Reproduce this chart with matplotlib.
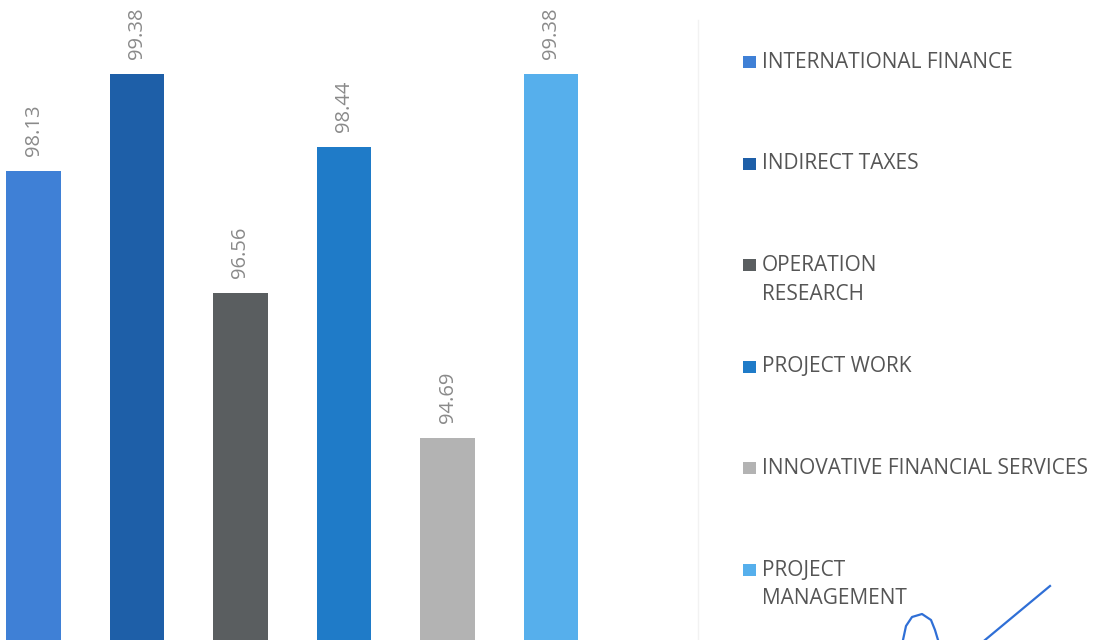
import matplotlib
matplotlib.use("Agg")
import matplotlib.pyplot as plt
from matplotlib.patches import Rectangle
from matplotlib.lines import Line2D
import numpy as np

subjects = ['INTERNATIONAL FINANCE', 'INDIRECT TAXES', 'OPERATION\nRESEARCH',
            'PROJECT WORK', 'INNOVATIVE FINANCIAL SERVICES', 'PROJECT\nMANAGEMENT']
scores = [98.13, 99.38, 96.56, 98.44, 94.69, 99.38]
bar_colors = ['#3f80d6', '#1e5fa8', '#5a5e60', '#1f7bc8', '#b3b3b3', '#56afec']

W, H = 1101, 640
fig = plt.figure(figsize=(W / 100, H / 100), dpi=100)
fig.patch.set_facecolor('white')

# axes runs off the bottom of the picture, like the cropped original
ax = fig.add_axes([0, (640 - 647.3) / H, 620 / W, (647.3 - 25.7) / H])
x = np.arange(len(scores))
ax.bar(x, scores, width=0.53, color=bar_colors)
ax.set_ylim(92, 100)
ax.set_xlim(-33.5 / 103.5, (620 - 33.5) / 103.5)
ax.axis('off')

for xi, v in zip(x, scores):
    ax.annotate(f'{v:.2f}', (xi, v), xytext=(0, 11), textcoords='offset points',
                rotation=90, ha='center', va='bottom', fontsize=14.5,
                color='#8a8a8a', family='Open Sans', annotation_clip=False)

# faint divider between plot and legend
fig.add_artist(Line2D([698 / W, 698 / W], [0, 1 - 20 / H], color='#f2f2f2', lw=1))

# legend drawn by hand to keep the even spacing of the original
for i, (name, c) in enumerate(zip(subjects, bar_colors)):
    yc = 62 + i * 101.6
    fig.add_artist(Rectangle((743 / W, 1 - (yc + 6) / H), 13 / W, 12 / H,
                             transform=fig.transFigure, color=c, lw=0))
    for k, line in enumerate(name.split('\n')):
        fig.text(762 / W, 1 - (yc + k * 29) / H, line, ha='left', va='center',
                 fontsize=15, color='#555555', family='Open Sans')

# signature scribble at the bottom right
sx = [903, 906, 912, 922, 931, 935, 938]
sy = [640, 626, 617, 614, 620, 630, 640]
fig.add_artist(Line2D([v / W for v in sx], [1 - v / H for v in sy], color='#2f6fd6', lw=1.6))
fig.add_artist(Line2D([985 / W, 1050 / W], [1 - 640 / H, 1 - 586 / H], color='#2f6fd6', lw=1.6))

fig.savefig('out.png', dpi=100, facecolor='white')
